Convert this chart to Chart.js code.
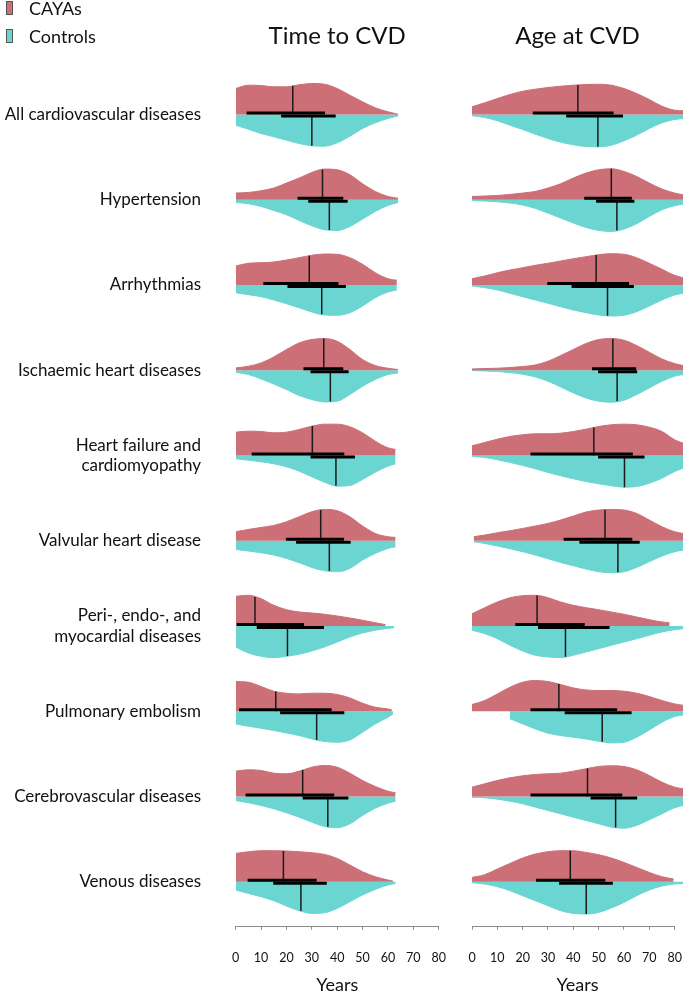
<!DOCTYPE html>
<html lang="en">
<head>
<meta charset="UTF-8">
<title>Time and age at CVD</title>
<script src="https://cdn.jsdelivr.net/npm/chart.js@4.4.1/dist/chart.umd.min.js"></script>
<style>
  html, body { margin: 0; padding: 0; background: #fff; overflow: hidden; }
  body { width: 693px; height: 992px; position: relative; font-family: Lato, sans-serif; color: #111; }
  #chart-time { position: absolute; left: 0; top: 0; }
  #chart-age { position: absolute; left: 452px; top: 0; }
  .key { position: absolute; left: 6px; height: 16px; line-height: 16px; font-size: 18px; display: flex; align-items: center; }
  .swatch { width: 5px; height: 12px; border: 1px solid #555; margin-right: 16px; }
</style>
</head>
<body>
  <canvas id="chart-time" width="452" height="1000"></canvas>
  <canvas id="chart-age" width="241" height="1000"></canvas>
  <div class="key" style="top:0"><span class="swatch" style="background:#cd6f77"></span>CAYAs</div>
  <div class="key" style="top:28px"><span class="swatch" style="background:#6bd5d2"></span>Controls</div>

<script>
const categories = [
  'All cardiovascular diseases', 'Hypertension', 'Arrhythmias', 'Ischaemic heart diseases',
  ['Heart failure and', 'cardiomyopathy'], 'Valvular heart disease',
  ['Peri-, endo-, and', 'myocardial diseases'], 'Pulmonary embolism',
  'Cerebrovascular diseases', 'Venous diseases'
];
const xTicks = [0, 10, 20, 30, 40, 50, 60, 70, 80];

// violin outlines: density read at start, every 5 years, and at end
const timeCayasStart = [0, 0, 0, 0, 0, 0, 0, 0, 0, 0];
const timeCayasEnd = [64, 64, 63.5, 64, 63, 63, 59, 61.5, 63, 62];
const timeCayasDensity = [
  [26, 29.3, 29, 27.7, 27.7, 29.7, 31, 30.3, 26, 19.3, 12.7, 6.7, 2.7, 0.3],
  [6.7, 7.3, 9, 11.7, 16.7, 21.7, 27.3, 30.7, 30, 25, 16, 8.3, 3.3, 1.5],
  [19, 21.7, 22.3, 23, 25, 27.3, 29.7, 31, 30.7, 27.3, 20.7, 12.3, 6.3, 4.7],
  [2.3, 4, 7.3, 13.3, 20.7, 27.3, 30.7, 31.7, 29, 20.7, 10.7, 4.7, 2, 0.7],
  [23.3, 24.3, 24, 22.7, 23.3, 26, 29.3, 31.3, 31.3, 28.7, 22.7, 14.3, 7.7, 6],
  [9, 11.3, 13.3, 15.3, 19, 24, 29, 31.3, 30, 24, 14.7, 7.3, 4, 3.3],
  [29.7, 30.7, 27.3, 20.7, 16.3, 14, 13, 11.7, 10, 8, 5.7, 3.3, 1.3],
  [29.7, 29, 24.7, 20, 18, 17.3, 18, 18, 16.7, 13.3, 8, 4, 2.3, 1.3],
  [25.3, 26.7, 26, 23.3, 22.7, 25.3, 29.3, 31, 29.3, 23.3, 16, 10, 5.3, 3.7],
  [28.3, 30, 31, 31, 30.7, 30, 29, 27.3, 23.3, 16.7, 10, 5, 1.7, 0.5]
];
const timeControlsStart = [0, 0, 0, 0, 0, 0, 0, 0, 0, 0];
const timeControlsEnd = [64, 64, 63.5, 64, 63, 63, 62.5, 62, 63, 63];
const timeControlsDensity = [
  [10.7, 14.7, 19, 22.3, 25.7, 29, 31.3, 31.7, 28.3, 21.7, 14, 8.3, 4, 1.3],
  [2.7, 4, 6.7, 10.7, 15, 20.7, 26, 30, 30.7, 26.7, 19.3, 11.7, 5.7, 2.7],
  [7.7, 9.7, 11.7, 15, 18.7, 22.7, 27, 30, 30.3, 27.7, 21, 12.7, 7, 5],
  [2, 4.3, 8.7, 13.7, 19.3, 25.3, 29.3, 31.7, 31, 24.3, 16, 9.3, 4.3, 2.7],
  [3.3, 4.7, 6.3, 8.3, 11.3, 15.7, 21.3, 26.7, 30.7, 30, 24, 16.7, 10.7, 8.3],
  [8.7, 10.3, 12, 14.3, 17.7, 22, 26.7, 30, 31, 27.7, 19.3, 12.7, 7.7, 6],
  [21, 27, 30.3, 31.7, 30.3, 28.3, 25, 21, 16, 11, 7, 4.3, 2.3, 1.7],
  [12.7, 15, 17, 19.3, 21.7, 24.3, 27.7, 30.3, 31, 28.7, 21, 12.7, 6, 2.7],
  [4, 6.3, 9, 12.3, 16.3, 20.7, 25.7, 30, 31.3, 27.3, 19, 11.7, 6.7, 4.7],
  [8.3, 11.7, 15, 19, 24.3, 29, 31.7, 31, 26.7, 20, 13.3, 7.7, 3.3, 1.7]
];
const timeCayasMedian = [22.5, 34.2, 29, 34.7, 30.2, 33.5, 7.6, 15.8, 26.4, 18.8];
const timeControlsMedian = [30, 36.9, 33.9, 37.3, 39.5, 36.9, 20.4, 31.9, 36.3, 25.7];
const timeCayasIqr = [[4.3, 35.2], [24.4, 42.4], [10.9, 40.5], [26.7, 42.4], [6.3, 42.8],
  [19.8, 42.7], [0.4, 26.9], [1.3, 37.8], [3.9, 38.8], [4.7, 31.9]];
const timeControlsIqr = [[17.9, 39.4], [28.6, 44.1], [20.4, 43.4], [29.5, 44.5], [29.5, 47],
  [23.8, 45.3], [8.3, 34.8], [17.5, 42.8], [26.4, 44.4], [14.8, 35.9]];

const ageCayasStart = [0, 0, 0, 0, 0, 0.7, 0, 0, 0, 0];
const ageCayasEnd = [83.3, 83.3, 83.3, 83.3, 83.3, 83.3, 78, 83.3, 83.3, 79.6];
const ageCayasDensity = [
  [7.7, 11.7, 16, 20, 23.3, 25.3, 27, 28.3, 29.3, 30, 30.3, 29.3, 26, 21, 15, 8.3, 4.3, 3.7],
  [3.3, 3.7, 4.3, 5.3, 6.7, 8.3, 11.7, 16, 21.7, 26.7, 30, 31, 28.3, 23.3, 16.7, 10.7, 6.7, 5],
  [6.3, 9, 12.3, 15, 17.3, 19.7, 21.7, 24, 26.3, 28.3, 30.3, 31.3, 30.7, 27.3, 21.7, 15.7, 9.7, 7.3],
  [1.3, 1.7, 2, 2.7, 3.7, 5.3, 9, 14.7, 20.7, 26.7, 30.7, 31.7, 30, 24.7, 18, 11.3, 6.7, 4.7],
  [9.7, 13, 16.3, 19, 20.7, 21.7, 21.7, 22.3, 24, 26.3, 29, 30.7, 31.3, 30.7, 28.3, 24, 15.7, 12.3],
  [4, 5.7, 8, 10, 12.3, 14.7, 17.3, 20.7, 24.7, 28.7, 30.7, 31.3, 30.7, 27.3, 20.7, 14, 9, 7.3],
  [12.3, 18.3, 24, 28.3, 30.3, 30.7, 28.3, 24, 20.7, 18.3, 16.3, 14, 11.7, 9, 6.3, 4, 3.3],
  [6.7, 10.7, 17.3, 24, 29, 30.7, 29.7, 26.7, 23.3, 21.3, 20.7, 20.7, 20, 18, 14.7, 10.7, 7.3, 6],
  [9.3, 12.7, 16, 18.7, 20.7, 22, 22.7, 23.3, 25.3, 27.7, 30, 30.7, 30, 26.7, 21, 14.3, 9.3, 7.7],
  [4.3, 7, 12.7, 18.3, 23.7, 27.7, 30, 31, 31, 29.3, 27, 23.7, 19.3, 14.3, 9.3, 5, 2.7]
];
const ageControlsStart = [0, 0, 0, 0, 0, 0.7, 0, 15, 0, 0];
const ageControlsEnd = [83.3, 83.3, 83.3, 83.3, 83.3, 83.3, 83.3, 83.3, 83.3, 83.3];
const ageControlsDensity = [
  [1.3, 3, 6.3, 10.7, 15, 19.7, 24, 27.7, 30.3, 32, 32.3, 30.7, 26.3, 20.7, 14, 8.3, 5, 4],
  [0.7, 1.3, 2, 3.3, 5.3, 8.7, 13.3, 18.3, 23.3, 27.7, 30.7, 31.7, 29.3, 24, 16.7, 10, 6, 4.3],
  [1, 2.7, 5, 8.3, 11.7, 15, 18.3, 21.7, 25, 27.7, 30, 31, 30.3, 26.7, 21, 15, 10, 8.3],
  [0.3, 0.7, 1.3, 2.3, 4, 6.7, 11, 16.7, 22.7, 27.7, 31, 32, 30, 24.3, 17.7, 11, 6, 4.3],
  [0.7, 2, 4.3, 7, 10, 13.3, 17, 20.3, 23.3, 26, 28.3, 30.3, 31.7, 31, 27.7, 22.7, 16, 12.7],
  [1, 2.7, 5.3, 8, 11, 14.3, 18, 21.7, 25, 28.3, 31, 32, 31, 26.7, 21, 15.3, 11, 9.3],
  [4.3, 7.7, 12.7, 19.3, 25, 29.3, 31, 31.7, 29.3, 26, 22.7, 19.3, 16, 12.7, 9.3, 6, 3.7, 2.7],
  [7.5, 12.7, 17.7, 22, 24.3, 26, 27.7, 30, 31.7, 31, 26, 18.7, 11, 5.3, 3.7],
  [0.7, 1.3, 2.7, 4.7, 7.3, 10.7, 14, 17.3, 20.7, 24, 27.3, 30.7, 31.7, 29, 23.3, 17.3, 11.3, 9],
  [1, 2.3, 5, 9, 14, 19, 24, 29, 31.7, 32.3, 30.7, 26.3, 20.7, 14, 8.3, 4.3, 2.3, 1.7]
];
const ageCayasMedian = [41.8, 55, 49, 55.6, 48.1, 52.5, 25.7, 34.3, 45.6, 38.8];
const ageControlsMedian = [49.7, 57.2, 53.5, 57.3, 60.2, 57.6, 36.9, 51.4, 56.7, 45.1];
const ageCayasIqr = [[24, 55.9], [44.3, 63.1], [29.7, 62], [47.4, 64.8], [23.1, 63.5],
  [36.2, 63.3], [17.1, 44.5], [23.1, 57.3], [23.1, 59.3], [25.3, 52.6]];
const ageControlsIqr = [[37.2, 59.6], [49, 64.1], [39.3, 63.9], [49.8, 65.2], [49.8, 68.1],
  [42.4, 66.2], [26.1, 54.3], [36.6, 63], [46.8, 65.2], [34.4, 55.6]];

const CAYA_COLOR = '#cd6f77';
const CONTROL_COLOR = '#6bd5d2';
const DENS = 1 / 85.24;   // density -> row units
const BAR_OFF = 0.018;    // bars sit just above / below the split line
const ROW_MIN = -0.516, ROW_MAX = 9.63;

Chart.defaults.font.family = 'Lato, sans-serif';
Chart.defaults.color = '#111';

function outline(start, end, dens) {
  const xs = [start];
  for (let x = Math.floor(start / 5) * 5 + 5; x < end - 0.01; x += 5) xs.push(x);
  xs.push(end);
  if (xs.length !== dens.length) console.warn('length mismatch', start, end, dens.length, xs.length);
  return xs.map((x, i) => ({ x, h: dens[i] }));
}

function heightAt(pts, x) {
  for (let i = 1; i < pts.length; i++) {
    if (x <= pts[i].x) {
      const a = pts[i - 1], b = pts[i];
      return a.h + (b.h - a.h) * (x - a.x) / (b.x - a.x);
    }
  }
  return pts[pts.length - 1].h;
}

function buildDatasets(cStart, cEnd, cDens, kStart, kEnd, kDens, cMed, kMed, cIqr, kIqr) {
  const sets = [];
  categories.forEach((cat, i) => {
    const base = categories.length - 1 - i;
    const groups = [
      { pts: outline(cStart[i], cEnd[i], cDens[i]), sign: 1, color: CAYA_COLOR, med: cMed[i], iqr: cIqr[i] },
      { pts: outline(kStart[i], kEnd[i], kDens[i]), sign: -1, color: CONTROL_COLOR, med: kMed[i], iqr: kIqr[i] }
    ];
    groups.forEach(g => {
      sets.push({
        data: g.pts.map(p => ({ x: p.x, y: base + g.sign * p.h * DENS })),
        fill: { value: base },
        backgroundColor: g.color,
        borderColor: g.color,
        borderWidth: 1,
        pointRadius: 0,
        cubicInterpolationMode: 'monotone',
        order: 3
      });
      sets.push({
        data: [{ x: g.med, y: base }, { x: g.med, y: base + g.sign * heightAt(g.pts, g.med) * DENS }],
        borderColor: '#1a1a1a',
        borderWidth: 1.5,
        pointRadius: 0,
        fill: false,
        order: 2
      });
      sets.push({
        data: [{ x: g.iqr[0], y: base + g.sign * BAR_OFF }, { x: g.iqr[1], y: base + g.sign * BAR_OFF }],
        borderColor: '#000',
        borderWidth: 3,
        borderCapStyle: 'butt',
        pointRadius: 0,
        fill: false,
        order: 1
      });
    });
  });
  return sets;
}

// axis line only spans the labelled ticks
const axisLine = {
  id: 'axisLine',
  afterDraw(chart) {
    const { ctx, chartArea, scales: { x } } = chart;
    const y = Math.round(chartArea.bottom) + 0.5;
    ctx.save();
    ctx.strokeStyle = '#8c8c8c';
    ctx.lineWidth = 1;
    ctx.beginPath();
    ctx.moveTo(x.getPixelForValue(xTicks[0]), y);
    ctx.lineTo(x.getPixelForValue(xTicks[xTicks.length - 1]), y);
    ctx.stroke();
    ctx.restore();
  }
};

function xScale(max) {
  return {
    type: 'linear',
    min: 0,
    max: max,
    afterBuildTicks: s => { s.ticks = xTicks.map(v => ({ value: v })); },
    afterFit: s => {
      s.height = 74.3;
      // tick padding is only meant to push labels down, not in from the sides
      s.paddingLeft = 0;
      s.paddingRight = 0;
    },
    ticks: { font: { size: 12.5 }, color: '#111', padding: 21, maxRotation: 0, autoSkip: false },
    grid: { drawOnChartArea: false, tickLength: 4, color: '#8c8c8c' },
    border: { display: false },
    title: { display: true, text: 'Years', font: { size: 18 }, color: '#111', padding: { top: 0, bottom: 4.2 } }
  };
}

function titleOpts(text) {
  return {
    display: true, text: text, fullSize: false, color: '#111',
    font: { size: 24, weight: 'normal' }, padding: { top: 22, bottom: 10 }
  };
}

new Chart(document.getElementById('chart-time'), {
  type: 'line',
  data: { datasets: buildDatasets(timeCayasStart, timeCayasEnd, timeCayasDensity,
    timeControlsStart, timeControlsEnd, timeControlsDensity,
    timeCayasMedian, timeControlsMedian, timeCayasIqr, timeControlsIqr) },
  options: {
    responsive: false,
    animation: false,
    events: [],
    layout: { padding: { left: 0, right: 13.3, top: 0, bottom: 0 } },
    plugins: { legend: { display: false }, tooltip: { enabled: false }, title: titleOpts('Time to CVD') },
    scales: {
      x: xScale(80),
      y: {
        type: 'linear',
        min: ROW_MIN,
        max: ROW_MAX,
        afterBuildTicks: s => { s.ticks = categories.map((c, i) => ({ value: categories.length - 1 - i })); },
        afterFit: s => { s.width = 235.7; },
        ticks: {
          callback: v => categories[categories.length - 1 - v],
          font: { size: 17 }, color: '#111', padding: 34.7, autoSkip: false
        },
        grid: { display: false, drawTicks: false },
        border: { display: false }
      }
    }
  },
  plugins: [axisLine]
});

new Chart(document.getElementById('chart-age'), {
  type: 'line',
  data: { datasets: buildDatasets(ageCayasStart, ageCayasEnd, ageCayasDensity,
    ageControlsStart, ageControlsEnd, ageControlsDensity,
    ageCayasMedian, ageControlsMedian, ageCayasIqr, ageControlsIqr) },
  options: {
    responsive: false,
    animation: false,
    events: [],
    layout: { padding: { left: 20, right: 10, top: 0, bottom: 0 } },
    plugins: { legend: { display: false }, tooltip: { enabled: false }, title: titleOpts('Age at CVD') },
    scales: {
      x: xScale(83.3),
      y: { type: 'linear', min: ROW_MIN, max: ROW_MAX, display: false }
    }
  },
  plugins: [axisLine]
});
</script>
</body>
</html>
